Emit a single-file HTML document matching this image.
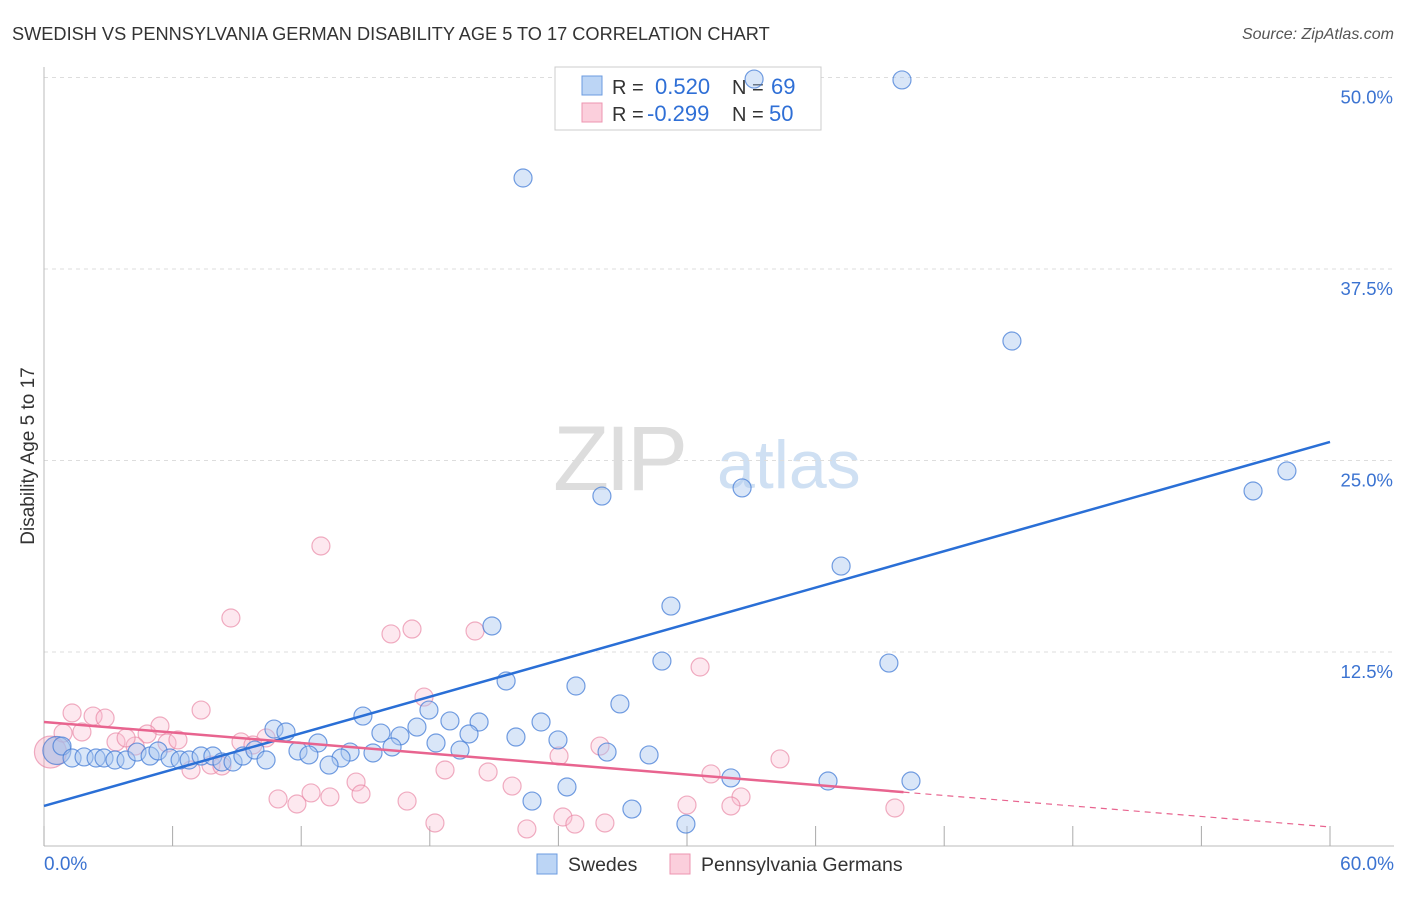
<!DOCTYPE html>
<html><head><meta charset="utf-8"><style>
body{margin:0;background:#fff;font-family:"Liberation Sans",sans-serif;}
svg text{font-family:"Liberation Sans",sans-serif;}
</style></head><body>
<svg id="chart" width="1406" height="892" xmlns="http://www.w3.org/2000/svg">
<text x="12" y="40" font-size="18.2" fill="#333">SWEDISH VS PENNSYLVANIA GERMAN DISABILITY AGE 5 TO 17 CORRELATION CHART</text>
<text x="1394" y="39" font-size="16" fill="#555" text-anchor="end" font-style="italic">Source: ZipAtlas.com</text>
<g>
<text x="553" y="490" font-size="92" fill="#ddd" font-family="Liberation Serif" letter-spacing="-4">ZIP</text>
<text x="717" y="488" font-size="68" fill="#cfe0f3">atlas</text>
</g>
<g id="grid"></g>
<g id="axes"></g>
<g>
<rect x="555" y="67" width="266" height="63" fill="#fff" stroke="#ccc"/>
<rect x="582" y="76" width="20" height="19" fill="#bcd5f5" stroke="#6b9be0"/>
<rect x="582" y="103" width="20" height="19" fill="#fbcfdc" stroke="#ee94b0"/>
<text x="612" y="94" font-size="20" fill="#333">R =</text>
<text x="655" y="94" font-size="22" fill="#2f6fd6">0.520</text>
<text x="732" y="94" font-size="20" fill="#333">N =</text>
<text x="771" y="94" font-size="22" fill="#2f6fd6">69</text>
<text x="612" y="121" font-size="20" fill="#333">R =</text>
<text x="647" y="121" font-size="22" fill="#2f6fd6">-0.299</text>
<text x="732" y="121" font-size="20" fill="#333">N =</text>
<text x="769" y="121" font-size="22" fill="#2f6fd6">50</text>
</g>
<g id="pts"></g>
<g id="lines"></g>
<text transform="translate(34,456) rotate(-90)" font-size="19" fill="#333" text-anchor="middle">Disability Age 5 to 17</text>
<text x="44" y="870" font-size="19" fill="#3b73d1">0.0%</text>
<text x="1394" y="870" font-size="19" fill="#3b73d1" text-anchor="end">60.0%</text>
<g>
<rect x="537" y="854" width="20" height="20" fill="#bcd5f5" stroke="#6b9be0"/>
<text x="568" y="871" font-size="19.5" fill="#333">Swedes</text>
</g>
<g>
<rect x="670" y="854" width="20" height="20" fill="#fbcfdc" stroke="#ee94b0"/>
<text x="701" y="871" font-size="19.5" fill="#333">Pennsylvania Germans</text>
</g>
</svg>
<script>
const yTicks=[12.5,25,37.5,50];
const yTickLabels=["12.5%","25.0%","37.5%","50.0%"];
const xTicks=[0,6,12,18,24,30,36,42,48,54,60];
const bluePx=[[902,80],[754,79],[523,178],[1012,341],[1287,471],[1253,491],[742,488],[602,496],[841,566],[671,606],[492,626],[662,661],[889,663],[506,681],[576,686],[620,704],[429,710],[363,716],[274,729],[286,732],[417,727],[450,721],[479,722],[541,722],[381,733],[469,734],[400,736],[516,737],[558,740],[318,743],[436,743],[392,747],[460,750],[607,752],[649,755],[350,752],[298,751],[309,755],[373,753],[341,758],[329,765],[731,778],[828,781],[911,781],[567,787],[532,801],[632,809],[686,824],[62,746],[72,758],[84,757],[96,758],[104,758],[115,760],[126,760],[137,752],[150,756],[158,751],[170,758],[180,760],[189,760],[201,756],[213,756],[222,762],[233,762],[243,756],[255,750],[266,760]];
const pinkPx=[[321,546],[231,618],[391,634],[412,629],[475,631],[700,667],[424,697],[201,710],[72,713],[93,716],[105,718],[82,732],[160,726],[147,734],[63,733],[116,742],[135,746],[126,738],[167,743],[178,740],[241,742],[266,738],[253,745],[211,765],[191,770],[222,766],[445,770],[488,772],[559,756],[600,746],[711,774],[780,759],[356,782],[512,786],[741,797],[731,806],[687,805],[895,808],[278,799],[297,804],[311,793],[330,797],[361,794],[407,801],[435,823],[527,829],[563,817],[575,824],[605,823]];
const toData=p=>[+((p[0]-44)/1286*60).toFixed(2),+((845.5-p[1])/15.32).toFixed(2)];
const swedesX=bluePx.map(p=>toData(p)[0]), swedesY=bluePx.map(p=>toData(p)[1]);
const pennX=pinkPx.map(p=>toData(p)[0]), pennY=pinkPx.map(p=>toData(p)[1]);
const bigBlue=[0.6,6.2], bigPink=[0.3,6.1];
const blueTrend=[2.58,26.34], pinkTrend=[8.06,1.21], pinkSolidEnd=40.1;
const NS="http://www.w3.org/2000/svg";
const X=v=>44+v/60*1286, Y=v=>845.5-v*15.32;
function mk(t,a,parent){const e=document.createElementNS(NS,t);for(const k in a)e.setAttribute(k,a[k]);document.getElementById(parent).appendChild(e);return e;}
yTicks.forEach((t,i)=>{
 const l=mk('line',{x1:44,x2:1394,y1:Y(t)-2,y2:Y(t)-2,stroke:'#ddd','stroke-dasharray':'4,4'},'grid');
 
 
 const tx=mk('text',{x:1393,y:Y(t)+24,'font-size':18.5,fill:'#3b73d1','text-anchor':'end'},'grid');tx.textContent=yTickLabels[i];
 
 
});
const ax=mk('line',{x1:44,x2:44,y1:67,y2:846,stroke:'#bbb'},'axes');


const bx=mk('line',{x1:44,x2:1394,y1:846,y2:846,stroke:'#bbb'},'axes');


xTicks.forEach(t=>{const l=mk('line',{x1:X(t),x2:X(t),y1:826,y2:846,stroke:'#aaa'},'axes');
 
 });
function dot(x,y,r,fill,stroke,name){const c=mk('circle',{cx:X(x),cy:Y(y),r:r,fill:fill,stroke:stroke,'stroke-width':1.2},'pts');
 
 }
dot(bigPink[0],bigPink[1],16,'rgba(244,160,185,0.35)','rgba(230,120,155,0.6)','pennsylvania-german-point');
pennX.forEach((x,i)=>dot(x,pennY[i],9,'rgba(248,190,208,0.35)','rgba(232,130,162,0.65)','pennsylvania-german-point'));
dot(bigBlue[0],bigBlue[1],14,'rgba(150,180,230,0.5)','rgba(70,120,210,0.7)','swede-point');
swedesX.forEach((x,i)=>dot(x,swedesY[i],9,'rgba(170,200,240,0.45)','rgba(70,125,215,0.75)','swede-point'));
const bl=mk('line',{x1:X(0),y1:Y(blueTrend[0]),x2:X(60),y2:Y(blueTrend[1]),stroke:'#2a6fd6','stroke-width':2.5},'lines');


const py=x=>pinkTrend[0]+(pinkTrend[1]-pinkTrend[0])*x/60;
const pl=mk('line',{x1:X(0),y1:Y(pinkTrend[0]),x2:X(pinkSolidEnd),y2:Y(py(pinkSolidEnd)),stroke:'#e8648f','stroke-width':2.5},'lines');


const pd=mk('line',{x1:X(pinkSolidEnd),y1:Y(py(pinkSolidEnd)),x2:X(60),y2:Y(pinkTrend[1]),stroke:'#e8648f','stroke-width':1.2,'stroke-dasharray':'6,5'},'lines');


</script>
</body></html>
